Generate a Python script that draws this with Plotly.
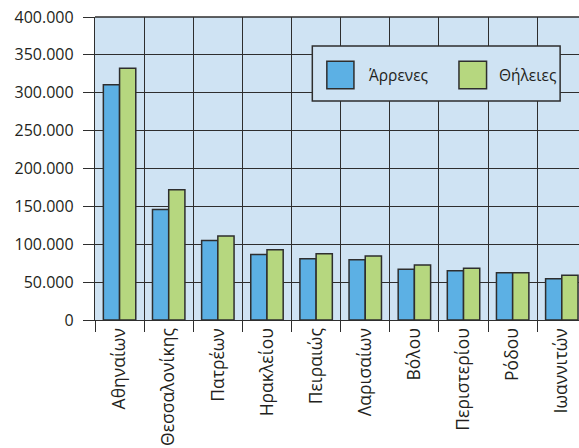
import plotly.graph_objects as go

cities = ["Αθηναίων", "Θεσσαλονίκης", "Πατρέων", "Ηρακλείου", "Πειραιώς",
          "Λαρισαίων", "Βόλου", "Περιστερίου", "Ρόδου", "Ιωαννιτών"]
males = [310500, 146000, 105000, 86500, 80700, 79700, 67000, 65000, 62500, 54600]
females = [332500, 172000, 111000, 92600, 87500, 84600, 72700, 68300, 62500, 59000]
series_names = ["Άρρενες", "Θήλειες"]
y_ticks = [0, 50000, 100000, 150000, 200000, 250000, 300000, 350000, 400000]

BLUE = "#5cb0e4"
GREEN = "#b6d77f"
BG = "#cfe3f3"
DARK = "#2e2e2e"
FONT = "Open Sans"

fig = go.Figure()
for name, vals, col in [(series_names[0], males, BLUE), (series_names[1], females, GREEN)]:
    fig.add_trace(go.Bar(
        x=cities, y=vals, name=name,
        marker=dict(color=col, line=dict(color=DARK, width=1.5)),
        showlegend=False,
    ))

fig.update_layout(
    width=579, height=448,
    margin=dict(l=95, r=0, t=17, b=128, autoexpand=False),
    paper_bgcolor="white", plot_bgcolor=BG,
    barmode="group", bargap=0.34, bargroupgap=0,
    separators=",.",
    font=dict(family=FONT, size=16, color="#231f20"),
)
fig.update_xaxes(
    range=[-0.5, 9.35], type="category", automargin=False,
    tickson="boundaries", ticks="outside", ticklen=11, tickwidth=1.3, tickcolor=DARK,
    showgrid=True, gridcolor=DARK, gridwidth=1.3,
    showline=True, linecolor=DARK, linewidth=1.3,
    tickangle=-90, tickfont=dict(size=17.5),
)
fig.update_yaxes(
    range=[0, 400000], tickvals=y_ticks, tickformat=",d", automargin=False,
    ticks="outside", ticklen=11, tickwidth=1.3, tickcolor=DARK,
    showgrid=True, gridcolor=DARK, gridwidth=1.3,
    showline=True, linecolor=DARK, linewidth=1.3, mirror=False,
    zeroline=False, ticklabelstandoff=6, tickfont=dict(size=16),
)
# top border line
fig.add_shape(type="line", xref="paper", yref="paper", x0=0, x1=1, y0=1, y1=1,
              line=dict(color=DARK, width=1.5))

# legend box (manual, to match large swatches)
fig.add_shape(type="rect", xref="paper", yref="paper", x0=0.449, x1=0.961, y0=0.723, y1=0.904,
              fillcolor=BG, line=dict(color=DARK, width=1.5), layer="above")
for (sx0, sx1, col, tx, name) in [(0.479, 0.535, BLUE, 0.562, series_names[0]),
                                   (0.752, 0.809, GREEN, 0.831, series_names[1])]:
    fig.add_shape(type="rect", xref="paper", yref="paper", x0=sx0, x1=sx1, y0=0.763, y1=0.854,
                  fillcolor=col, line=dict(color=DARK, width=1.5), layer="above")
    fig.add_annotation(text=name, xref="paper", yref="paper", x=tx, y=0.809,
                       xanchor="left", yanchor="middle", showarrow=False,
                       font=dict(size=15.5, family=FONT, color="#231f20"))

fig.write_html("out.html", config={"displayModeBar": False},
               post_script="document.body.style.margin='0';")
